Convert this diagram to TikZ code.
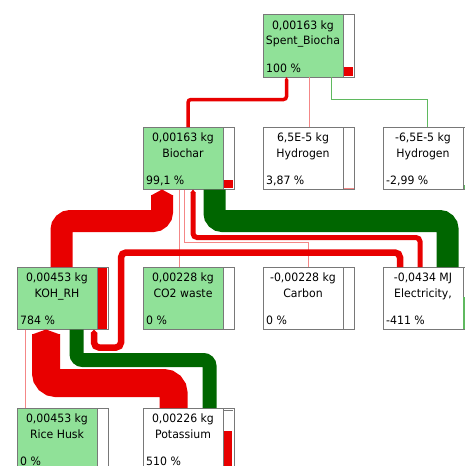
\documentclass[tikz,border=0pt]{standalone}
\usepackage{fontspec}
\setmainfont[FakeStretch=0.95]{DejaVu Sans}
\usetikzlibrary{calc}
\definecolor{flowred}{RGB}{232,0,0}
\definecolor{flowgreen}{RGB}{0,102,0}
\definecolor{flowpink}{RGB}{244,135,135}
\definecolor{thingreen}{RGB}{95,185,95}
\definecolor{boxgreen}{RGB}{144,225,152}
\definecolor{bordergray}{RGB}{120,120,120}

\newcommand\mkbox[7]{%
  \node[box, fill=#4] (#1) at (#2,#3) {};
  \node[valtxt] (#1v) at ($(#1.north west)+(40,14.7)$) {#5};
  \node[valtxt] (#1n) at ($(#1.north west)+(40,30)$) {#6};
  \node[pcttxt] (#1p) at ($(#1.north west)+(3,57.7)$) {#7};
  \fill[white] ($(#1.north west)+(80,0.5)$) rectangle ($(#1.south east)+(-0.5,-0.5)$);
  \draw[bordergray, line width=1pt] ($(#1.north west)+(80,0)$) -- ($(#1.south west)+(80,0)$);
}
\newcommand\chev[4]{%
  \fill[#1] ($(#2)+(-#3/2,#4)$) -- (#2) -- ($(#2)+(#3/2,#4)$) -- cycle;
}

\begin{document}
\begin{tikzpicture}[x=1pt,y=-1pt, font=\fontsize{11.5}{13}\selectfont,
  box/.style={draw=bordergray, line width=1pt, minimum width=91pt, minimum height=62.5pt, inner sep=0pt, outer sep=0pt, anchor=north west},
  valtxt/.style={anchor=base, inner sep=0pt},
  pcttxt/.style={anchor=base west, inner sep=0pt},
  hair/.style={line width=1pt}]
\useasboundingbox (0,0) rectangle (464,466);

% boxes
\mkbox{spent}{263}{14.5}{boxgreen}{0,00163 kg}{Spent\_Biocha}{100 \%}
\mkbox{h1}{263}{127}{white}{6,5E-5 kg}{Hydrogen}{3,87 \%}
\mkbox{h2}{383}{127}{white}{-6,5E-5 kg}{Hydrogen}{-2,99 \%}
\mkbox{biochar}{143}{127}{boxgreen}{0,00163 kg}{Biochar}{99,1 \%}
\mkbox{koh}{17}{267}{boxgreen}{0,00453 kg}{KOH\_RH}{784 \%}
\mkbox{co2}{143}{267}{boxgreen}{0,00228 kg}{CO2 waste}{0 \%}
\mkbox{carbon}{263}{267}{white}{-0,00228 kg}{Carbon}{0 \%}
\mkbox{elec}{383}{267}{white}{-0,0434 MJ}{Electricity,}{-411 \%}
\mkbox{rice}{17}{408}{boxgreen}{0,00453 kg}{Rice Husk}{0 \%}
\mkbox{pot}{143}{408}{white}{0,00226 kg}{Potassium}{510 \%}

% bar fills
\fill[flowred] ($(spent.south west)+(80.5,-10)$) rectangle ($(spent.south east)+(-1,-1)$);
\draw[flowpink, hair] ($(h1.south west)+(80.5,-1.5)$) -- ($(h1.south east)+(-0.5,-1.5)$);
\fill[thingreen] ($(h2.south west)+(80.5,-4.5)$) rectangle ($(h2.south east)+(-1,-1)$);
\fill[flowred] ($(biochar.south west)+(80.5,-9.5)$) rectangle ($(biochar.south east)+(-1,-2)$);
\fill[flowred] ($(koh.north west)+(80.5,1)$) rectangle ($(koh.south east)+(-1,-1)$);
\fill[thingreen] ($(elec.south west)+(80,-32.5)$) rectangle ($(elec.south east)+(-1,-1)$);
\fill[flowred] ($(pot.north west)+(81,23)$) rectangle ($(pot.south east)+(-2,-1)$);
\draw[bordergray, hair] ($(pot.north west)+(81,2)$) -- ++(9,0);

% thin connectors
\draw[flowpink, hair] ($(spent.south west)+(46,0)$) -- ($(h1.north west)+(46,0)$);
\draw[thingreen, hair] ($(spent.south west)+(68,0)$) -- ++(0,22) -| ($(h2.north west)+(44,0)$);
\draw[flowpink, hair] ($(biochar.south west)+(36,0)$) -- ($(co2.north west)+(36,0)$);
\draw[flowpink, hair] ($(biochar.south west)+(41,0)$) -- ++(0,52.5) -| ($(carbon.north west)+(45,0)$);
\draw[flowpink, hair] ($(koh.south west)+(8,0)$) -- ($(rice.north west)+(8,0)$);

% green bands
\draw[flowgreen, line width=22pt, rounded corners=8pt] ($(biochar.south west)+(71.5,0)$) |- ($(elec.north west)+(64.5,-46)$) -- ($(elec.north west)+(64.5,0)$);
\draw[flowgreen, line width=14pt, rounded corners=6pt] ($(koh.south west)+(59.5,0)$) |- ($(pot.north west)+(66.5,-48)$) -- ($(pot.north west)+(66.5,0)$);

% red connectors
\coordinate (c1e) at ($(spent.south west)+(23.5,0)$);
\draw[flowred, line width=3.5pt, rounded corners=3pt] ($(biochar.north west)+(45,0)$) |- ($(c1e)+(0,22.5)$) -- ($(c1e)+(0,2.5)$);
\chev{flowred}{c1e}{3.5}{3}

\coordinate (c6e) at ($(biochar.south west)+(50,0)$);
\draw[flowred, line width=5pt, rounded corners=4pt] ($(elec.north west)+(37,0)$) |- ($(c6e)+(0,48)$) -- ($(c6e)+(0,2.5)$);
\chev{flowred}{c6e}{5}{3}

\coordinate (c7e) at ($(koh.south west)+(77,0)$);
\draw[flowred, line width=6.5pt, rounded corners=5pt] ($(elec.north west)+(17,0)$) |- ($(koh.south west)+(104,-77)$) |- ($(c7e)+(0,18)$) -- ($(c7e)+(0,3)$);
\chev{flowred}{c7e}{6.5}{3.5}

\coordinate (cAe) at ($(biochar.south west)+(19,0)$);
\draw[flowred, line width=22pt, rounded corners=9pt] ($(koh.north west)+(44.5,0)$) |- ($(cAe)+(0,31.5)$) -- ($(cAe)+(0,5.5)$);
\chev{flowred}{cAe}{22}{6}

\coordinate (cBe) at ($(koh.south west)+(29,0)$);
\draw[flowred, line width=28pt, rounded corners=10pt] ($(pot.north west)+(30.5,0)$) |- ($(cBe)+(0,53.5)$) -- ($(cBe)+(0,4.5)$);
\chev{flowred}{cBe}{28}{5}
\end{tikzpicture}
\end{document}
